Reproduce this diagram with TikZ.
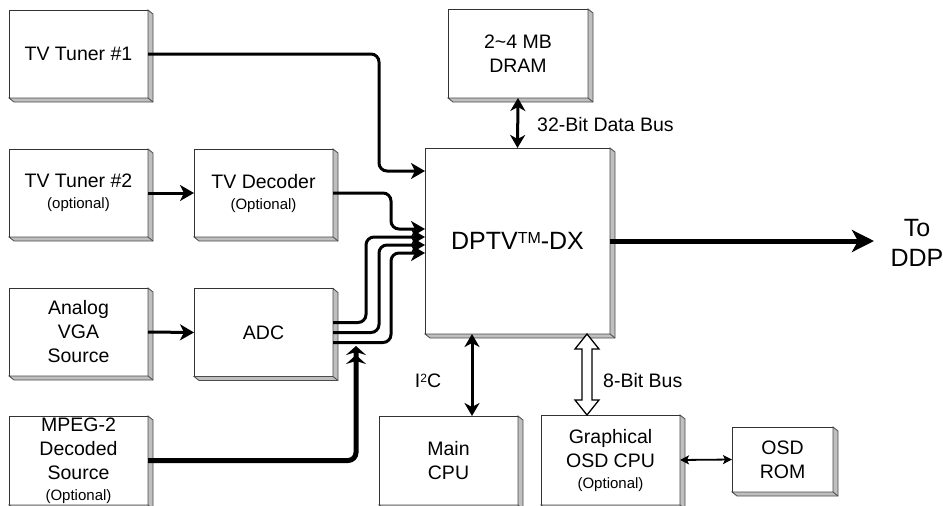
\documentclass[tikz,border=0pt]{standalone}
\usepackage{fontspec}
\setmainfont{Liberation Sans}
\usetikzlibrary{arrows.meta,calc}
\newcommand\smtxt{\fontsize{15}{18}\selectfont}
\newcommand\extrude[1]{%
  \draw[side] (#1.north east) -- ++(5,4) -- ($(#1.south east)+(5,4)$) -- ($(#1.south west)+(5,4)$) -- (#1.south west) -- (#1.south east) -- cycle;
  \draw[side] (#1.south east) -- ++(5,4);}
\tikzset{
  box/.style={draw=black!80, line width=0.9pt, fill=white, minimum width=139pt, minimum height=88pt,
    inner sep=0pt, outer sep=0pt, align=center, font=\fontsize{19.5}{24}\selectfont},
  side/.style={draw=black!70, line width=0.8pt, fill=black!25},
  conn/.style={line width=3pt, rounded corners=8pt, -{Stealth[length=14pt,width=16pt,inset=4pt]}},
  dbl/.style={line width=3pt, {Stealth[length=13pt,width=15pt,inset=4pt]}-{Stealth[length=13pt,width=15pt,inset=4pt]}},
  lbl/.style={inner sep=0pt, font=\fontsize{19.5}{24}\selectfont},
  big/.style={inner sep=0pt, align=center, font=\fontsize{25}{30}\selectfont},
}
\begin{document}
\begin{tikzpicture}[x=1pt,y=-1pt]
\useasboundingbox (0,0) rectangle (943,506);
% boxes
\node[box] (t1) at (78.5,54) {TV Tuner \#1};
\node[box] (t2) at (78.5,193) {TV Tuner \#2\\[-3pt]\smtxt (optional)};
\node[box] (dec) at (263.5,193) {TV Decoder\\[-3pt]\smtxt (Optional)};
\node[box] (vga) at (78.5,332) {Analog\\VGA\\Source};
\node[box] (adc) at (263.5,332.5) {ADC};
\node[box, minimum height=89pt] (mpeg) at (78.5,460.5) {MPEG-2\\Decoded\\Source\\[-3pt]\smtxt (Optional)};
\node[box, minimum width=140pt, minimum height=89pt] (dram) at (518,53.5) {2\textasciitilde 4 MB\\DRAM};
\node[box, minimum width=185pt, minimum height=186pt, font=\fontsize{25}{30}\selectfont] (dptv) at (517.5,241)
  {DPTV\raisebox{6.4pt}{\fontsize{16}{16}\selectfont TM}-DX};
\node[box, minimum height=89pt] (cpu) at (448.5,460.5) {Main\\CPU};
\node[box, minimum height=90pt] (osd) at (610.5,460) {Graphical\\OSD CPU\\[-3pt]\smtxt (Optional)};
\node[box, minimum width=101pt, minimum height=65pt] (rom) at (782.5,459.5) {OSD\\ROM};
\foreach \n in {t1,t2,dec,vga,adc,mpeg,dram,dptv,cpu,osd,rom} {\extrude{\n}}
% connectors
\draw[conn] (t1.east) -- ++(231,0) |- ([yshift=70pt]dptv.west);
\draw[conn] (t2.east) -- (dec.west);
\draw[conn] (vga.east) -- (adc.west);
\draw[conn] (dec.east) -- ++(58,0) |- ([yshift=12pt]dptv.west);
\draw[conn] ([yshift=10pt]adc.east) -- ++(33,0) |- ([yshift=4pt]dptv.west);
\draw[conn] (adc.east) -- ++(46,0) |- ([yshift=-4pt]dptv.west);
\draw[conn] ([yshift=-10pt]adc.east) -- ++(58,0) |- ([yshift=-12pt]dptv.west);
\coordinate (mj) at (356,346);
\draw[line width=5pt, rounded corners=8pt,
  -{Stealth[length=9pt,width=20pt,inset=3pt] Stealth[length=9pt,width=20pt,inset=3pt]}]
  (mpeg.east) -| (mj);
\coordinate (ddp) at (874,241);
\draw[line width=5pt, -{Stealth[length=22pt,width=22pt,inset=6pt]}] (dptv.east) -- (ddp);
\node[big] (ddplbl) at (917,243) {To\\DDP};
\draw[dbl] (dram.south) -- (dptv.north);
\node[lbl, anchor=west] (l32) at (537,125) {32-Bit Data Bus};
\draw[dbl] ([xshift=23.5pt]cpu.north |- dptv.south) -- ([xshift=23.5pt]cpu.north);
\node[lbl] (li2c) at (428,381) {I\raisebox{5pt}{\fontsize{12}{12}\selectfont 2}C};
\coordinate (hA) at ([xshift=-23.5pt]osd.north |- dptv.south);
\coordinate (hB) at ([xshift=-23.5pt]osd.north);
\draw[line width=1.3pt, fill=white, line join=miter]
  (hA) -- ++(12,15) -- ++(-7,0) -- ($(hB)+(5,-15)$) -- ++(7,0) -- (hB) -- ++(-12,-15) -- ++(7,0)
  -- ($(hA)+(-5,15)$) -- ++(-7,0) -- cycle;
\node[lbl, anchor=west] (l8) at (603,381) {8-Bit Bus};
\draw[line width=1.8pt, {Stealth[length=9pt,width=9pt,inset=2pt]}-{Stealth[length=9pt,width=9pt,inset=2pt]}]
  (osd.east) -- (rom.west);
\end{tikzpicture}
\end{document}
